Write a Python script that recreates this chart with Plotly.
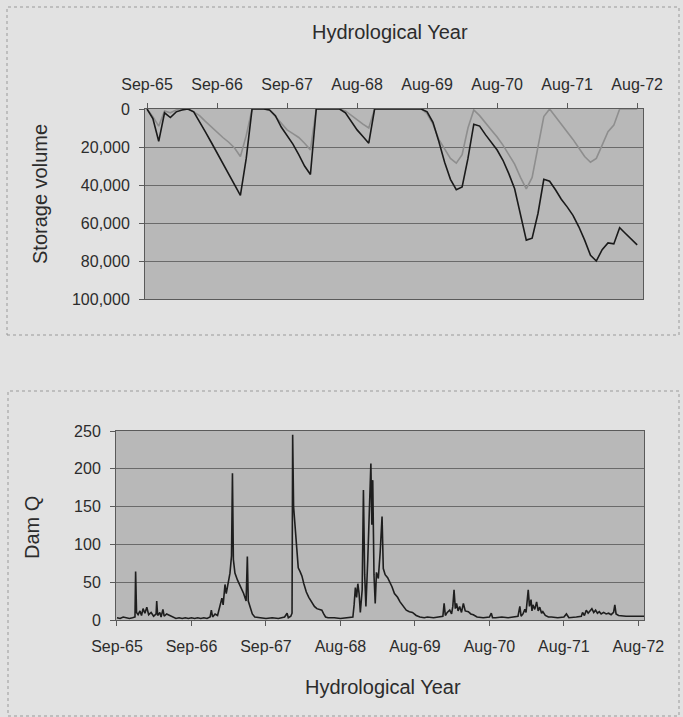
import plotly.graph_objects as go

# ---------------- data ----------------
year_labels_top = ["Sep-65", "Sep-66", "Sep-67", "Aug-68", "Aug-69", "Aug-70", "Aug-71", "Aug-72"]
year_labels_bottom = ["Sep-65", "Sep-66", "Sep-67", "Aug-68", "Aug-69", "Aug-70", "Aug-71", "Aug-72"]
year_tick_months = [0, 12, 24, 36, 48, 60, 72, 84]

storage_months = list(range(85))
storage_black = [
    0, 5000, 17000, 2000, 4500, 1500, 500, 0, 1500,
    6500, 12000, 17500, 23000, 28500, 34000, 39500, 45500, 26000, 0,
    0, 0, 500, 3500, 9500, 14000, 18500, 24000, 30000, 34500, 0,
    0, 0, 0, 0, 2000, 6500, 11000, 14500, 18000, 0,
    0, 0, 0, 0, 0, 0, 0, 0, 1500, 7000, 17000, 28000, 37000, 42500, 41000, 26000, 8000,
    9000, 13500, 17500, 21600, 27000, 34000, 42000, 55000, 69000, 68000, 55000, 37000,
    38000, 42500, 47500, 51500, 56000, 62000, 69000, 77000, 80000, 74000, 70500, 71000,
    62500, 65500, 68500, 71500,
]
storage_gray = [
    0, 4000, 9000, 1000, 2000, 500, 0, 0, 1500,
    3500, 6500, 9500, 12500, 15000, 17500, 20500, 25000, 14000, 0,
    0, 0, 500, 4000, 7500, 11000, 13000, 15000, 18000, 21500, 0,
    0, 0, 0, 0, 1000, 3500, 6000, 8000, 10000, 0,
    0, 0, 0, 0, 0, 0, 0, 0, 2500, 8000, 16000, 21000, 26000, 28500, 24000, 10000, 500,
    3500, 7500, 11000, 14700, 19000, 24000, 29000, 36000, 42000, 36000, 20000, 4000,
    0, 4000, 8000, 11500, 16000, 20500, 25000, 28000, 26000, 19000, 12000, 8500,
    0, 0, 0, 0,
]

q_month = (
    [0.0, 0.5, 1.0, 1.5, 2.0, 2.5, 2.9]
    + [3.0, 3.15, 3.4, 3.7, 3.95, 4.2, 4.5, 4.8, 5.1, 5.5]
    + [5.9, 6.3, 6.4, 6.55, 6.9, 7.1, 7.4, 7.6, 8.0, 8.5]
    + [9.0, 9.5, 10.0, 10.5, 11.0, 11.5, 12.0, 12.5, 13.0, 13.5, 14.0, 14.5]
    + [15.0, 15.2, 15.4, 15.8, 16.2, 16.6, 16.9, 17.1, 17.4, 17.6, 17.9]
    + [18.2, 18.45, 18.6, 18.75, 19.0, 19.4, 19.9, 20.4, 20.8, 21.0, 21.15, 21.5, 21.8, 22.2]
    + [23.0, 24.0, 25.0, 26.0, 27.0, 27.4, 27.6, 28.0, 28.2]
    + [28.3, 28.45, 28.7, 28.9, 29.2, 29.5, 29.8, 30.1, 30.5, 30.9, 31.4, 31.8, 32.2, 32.6, 33.0, 33.3, 33.6]
    + [34.0, 35.0, 36.0, 37.0, 38.0]
    + [38.2, 38.4, 38.6, 38.8, 39.0, 39.2, 39.5, 39.7, 39.9, 40.1, 40.4, 40.7, 40.9, 41.05, 41.2, 41.4, 41.6, 41.8]
    + [42.1, 42.4, 42.7, 42.9, 43.2, 43.6, 44.0, 44.3, 44.7, 45.2, 45.6, 46.1, 46.6, 47.1, 47.6, 48.2, 48.8]
    + [49.5, 50.0, 51.0, 52.0, 52.5]
    + [52.7, 52.9, 53.2, 53.6, 53.9, 54.1, 54.3, 54.5, 54.7, 54.95, 55.2, 55.5, 55.8, 56.1, 56.6, 57.0, 57.4]
    + [58.0, 59.0, 60.0, 60.3, 60.5, 61.0, 62.0, 63.0, 64.0, 64.6]
    + [64.9, 65.1, 65.4, 65.7, 65.9, 66.1, 66.25, 66.45, 66.7, 66.85, 67.0, 67.3, 67.6, 67.85, 68.1, 68.4, 68.6]
    + [69.0, 69.5, 70.0, 71.0, 72.0, 72.4, 72.8, 73.0, 74.0, 74.8]
    + [75.0, 75.3, 75.6, 75.9, 76.2, 76.5, 76.8, 77.1, 77.4, 77.7, 78.0, 78.4, 78.8, 79.2, 79.6, 80.0, 80.2, 80.4, 80.8]
    + [81.5, 82.0, 83.0, 84.0, 84.9]
)
q_flow = (
    [3, 2, 4, 3, 2, 3, 4]
    + [64, 10, 7, 12, 6, 15, 9, 17, 7, 10]
    + [5, 8, 25, 6, 10, 4, 14, 5, 8, 6]
    + [3, 2, 3, 2, 3, 2, 3, 2, 3, 2, 3, 2]
    + [4, 13, 4, 8, 6, 18, 29, 20, 47, 35, 50]
    + [62, 85, 194, 80, 62, 53, 44, 35, 25, 84, 25, 15, 8, 4]
    + [3, 2, 3, 2, 4, 9, 3, 5, 9]
    + [245, 150, 122, 96, 69, 64, 58, 48, 37, 30, 24, 18, 15, 14, 13, 8, 4]
    + [3, 3, 2, 3, 4]
    + [20, 43, 30, 48, 35, 10, 40, 172, 60, 18, 80, 160, 207, 126, 185, 60, 22, 63]
    + [55, 90, 137, 68, 60, 56, 50, 44, 35, 30, 24, 18, 13, 11, 10, 6, 4]
    + [3, 4, 3, 4, 5]
    + [22, 6, 10, 13, 8, 18, 40, 15, 22, 12, 18, 10, 22, 12, 11, 8, 7]
    + [4, 3, 4, 9, 3, 3, 4, 3, 4, 5]
    + [18, 5, 8, 14, 10, 28, 40, 18, 27, 12, 20, 14, 24, 12, 17, 9, 11]
    + [6, 4, 4, 3, 4, 8, 3, 3, 4, 5]
    + [10, 6, 13, 9, 12, 15, 10, 13, 9, 11, 8, 10, 8, 9, 7, 10, 20, 8, 6]
    + [5, 5, 5, 5, 5]
)

storage_ticks = [0, 20000, 40000, 60000, 80000, 100000]
storage_tick_text = ["0", "20,000", "40,000", "60,000", "80,000", "100,000"]
q_ticks = [0, 50, 100, 150, 200, 250]

# ---------------- figure ----------------
W, H = 683, 717
FONT = "Liberation Sans, Arial, sans-serif"
TXT = "#2c2c2c"
GRID = "#6a6a6a"
LINE = "#5a5a5a"

def px(x):
    return x / W

def py(y):
    return 1 - y / H

fig = go.Figure()
fig.add_trace(go.Scatter(x=storage_months, y=storage_gray, mode="lines",
                         line=dict(color="#8e8e8e", width=1.6), xaxis="x", yaxis="y",
                         showlegend=False))
fig.add_trace(go.Scatter(x=storage_months, y=storage_black, mode="lines",
                         line=dict(color="#1a1a1a", width=1.6), xaxis="x", yaxis="y",
                         showlegend=False))
fig.add_trace(go.Scatter(x=q_month, y=q_flow, mode="lines",
                         line=dict(color="#1e1e1e", width=1.6), xaxis="x2", yaxis="y2",
                         showlegend=False))

tickfont = dict(family=FONT, size=16, color=TXT)
common = dict(automargin=False, ticks="outside", ticklen=5, tickcolor=LINE, tickfont=tickfont,
              zeroline=False, showline=True, linecolor=LINE, mirror=True, tickmode="array")

fig.update_layout(
    template="none",
    width=W, height=H,
    margin=dict(l=0, r=0, t=0, b=0, pad=0),
    paper_bgcolor="#e2e2e2",
    plot_bgcolor="#b8b8b8",
    font=dict(family=FONT, color=TXT),
    showlegend=False,
    xaxis=dict(domain=[px(145), px(643)], range=[-0.35, 85.0], anchor="y", side="top",
               tickvals=year_tick_months, ticktext=year_labels_top,
               ticklabelstandoff=7, showgrid=False, **common),
    yaxis=dict(domain=[py(299), py(109)], range=[100000, 0], anchor="x",
               tickvals=storage_ticks, ticktext=storage_tick_text,
               ticklabelstandoff=6, showgrid=True, gridcolor=GRID, gridwidth=1, **common),
    xaxis2=dict(domain=[px(116), px(644)], range=[-0.16, 84.9], anchor="y2",
                tickvals=year_tick_months, ticktext=year_labels_bottom,
                ticklabelstandoff=7, showgrid=False, **common),
    yaxis2=dict(domain=[py(620), py(431)], range=[0, 250], anchor="x2",
                tickvals=q_ticks, ticktext=[str(v) for v in q_ticks],
                ticklabelstandoff=6, showgrid=True, gridcolor=GRID, gridwidth=1, **common),
)

titlefont = dict(family=FONT, size=20, color=TXT)
fig.add_annotation(text="Hydrological Year", x=px(390), y=py(32), xref="paper", yref="paper",
                   showarrow=False, font=titlefont, xanchor="center", yanchor="middle")
fig.add_annotation(text="Storage volume", x=px(40), y=py(194), xref="paper", yref="paper",
                   showarrow=False, font=titlefont, textangle=-90, xanchor="center", yanchor="middle")
fig.add_annotation(text="Dam Q", x=px(32), y=py(528), xref="paper", yref="paper",
                   showarrow=False, font=titlefont, textangle=-90, xanchor="center", yanchor="middle")
fig.add_annotation(text="Hydrological Year", x=px(383), y=py(687), xref="paper", yref="paper",
                   showarrow=False, font=titlefont, xanchor="center", yanchor="middle")

# chart-area borders
fig.add_shape(type="rect", xref="paper", yref="paper", x0=px(7), x1=px(679), y0=py(335), y1=py(7),
              line=dict(color="#9a9a9a", width=1, dash="dot"), layer="below")
fig.add_shape(type="rect", xref="paper", yref="paper", x0=px(8), x1=px(679), y0=py(716), y1=py(391),
              line=dict(color="#9a9a9a", width=1, dash="dot"), layer="below")

fig.write_html("out.html", config={"displayModeBar": False},
               post_script="document.body.style.margin='0';document.body.style.overflow='hidden';")
